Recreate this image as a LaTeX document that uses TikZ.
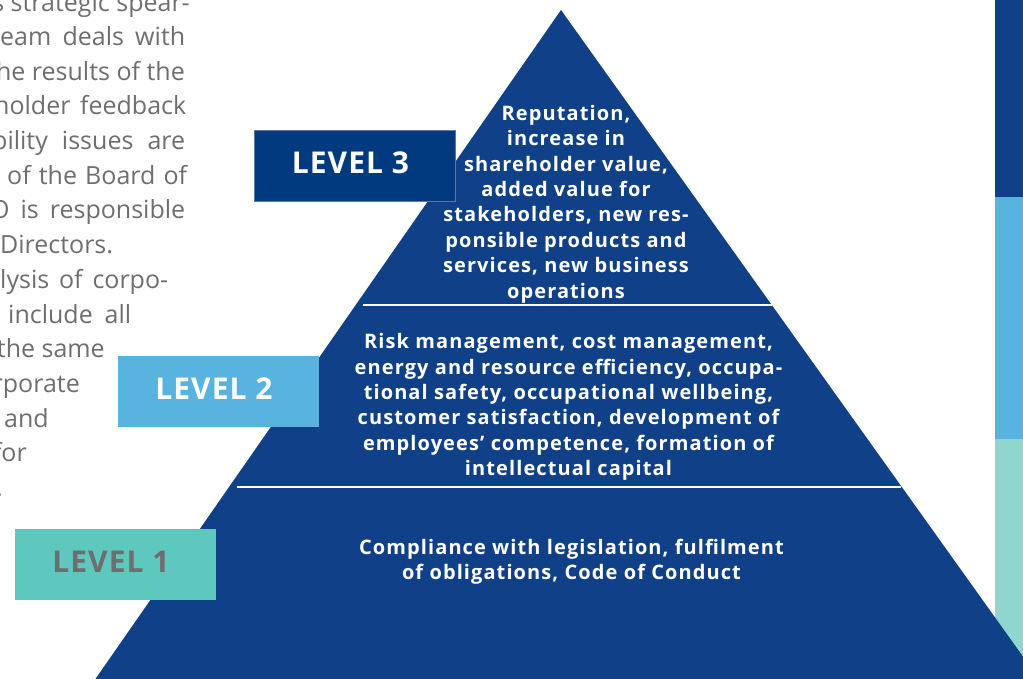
\documentclass[tikz,border=0pt]{standalone}
\usepackage{fontspec}
\setmainfont{Open Sans}
\usetikzlibrary{positioning}

\definecolor{pyrblue}{HTML}{0F4088}
\definecolor{navy}{HTML}{023A80}
\definecolor{skyblue}{HTML}{59B3DF}
\definecolor{tealbox}{HTML}{5EC8BE}
\definecolor{mint}{HTML}{8FD6CF}
\definecolor{bodygray}{HTML}{6D6E70}

% label text sits a little left of and above the box centre
\newcommand{\levtext}[1]{\raisebox{5pt}{#1}\kern8pt}

\tikzset{
  levelbox/.style={rectangle, minimum width=201, minimum height=71, inner sep=0,
    font=\fontsize{30}{36}\selectfont\bfseries\addfontfeature{LetterSpace=3.5}},
  tier/.style={align=center, inner sep=0, text=white,
    font=\fontsize{20}{25.4}\selectfont\bfseries\addfontfeature{LetterSpace=5.5}},
  bodyline/.style={anchor=base east, inner sep=0, text=bodygray,
    font=\fontsize{25}{30}\selectfont},
  bodyjust/.style={anchor=base west, inner sep=0, text=bodygray,
    font=\fontsize{25}{30}\selectfont},
  divider/.style={white, line width=2}
}

\begin{document}
\begin{tikzpicture}[x=1pt, y=-1pt]
  \useasboundingbox (0,0) rectangle (1023,679);
  \clip (0,0) rectangle (1023,679);

  % running text on the left, cut by the page edge
  \foreach \y/\x/\t in {11.5/190/s strategic spear-, 81/185/he results of the,
      357/105/the same, 392/80/rporate, 427/49/and, 461/27/for, 496/3/.}
    \node[bodyline] at (\x,\y) {\t};
  % justified lines: start, width
  \foreach \y/\x/\w/\t in {46/0/185/eam deals with, 115/-6/192/holder feedback,
      150/-8/193/bility issues are, 185/7/180/of the Board of,
      219/-10/195/O is responsible, 254/0/108/Directors.,
      288/0/168/lysis of corpo-, 323/8/123/include all}
    \node[bodyjust] at (\x,\y) {\makebox[\w pt][s]{\t}};

  % colour bars on the right
  \fill[pyrblue] (995,0) rectangle (1023,197);
  \fill[skyblue] (995,197) rectangle (1023,439);
  \fill[mint] (995,439) rectangle (1023,679);

  % pyramid
  \coordinate (apex) at (561,10);
  \coordinate (baseL) at (95.4,679);
  \coordinate (baseR) at (1039,679);
  \fill[pyrblue] (apex) -- (baseL) -- (baseR) -- cycle;
  \draw[divider] (363,305) -- (772,305);
  \draw[divider] (237,487) -- (901,487);

  \node[tier] at (566,204) (top) {Reputation,\\ increase in\\ shareholder value,\\
    added value for\\ stakeholders, new res-\\ ponsible products and\\
    services, new business\\ operations};
  \node[tier] at (568.5,407) (middle) {Risk management, cost management,\\
    energy and resource efficiency, occupa-\\ tional safety, occupational wellbeing,\\
    customer satisfaction, development of\\ employees’ competence, formation of\\
    intellectual capital};
  \node[tier] at (571.5,562) (bottom) {Compliance with legislation, fulfilment\\
    of obligations, Code of Conduct};

  % level labels
  \node[levelbox, fill=navy, draw={rgb,255:red,90;green,120;blue,165}, line width=0.8,
    text=white] at (354.5,165.5) (level3) {\levtext{LEVEL 3}};
  \node[levelbox, fill=skyblue, text=white] at (218,391) (level2) {\levtext{LEVEL 2}};
  \node[levelbox, fill=tealbox, text=bodygray] at (115,564) (level1) {\levtext{LEVEL 1}};
\end{tikzpicture}
\end{document}
